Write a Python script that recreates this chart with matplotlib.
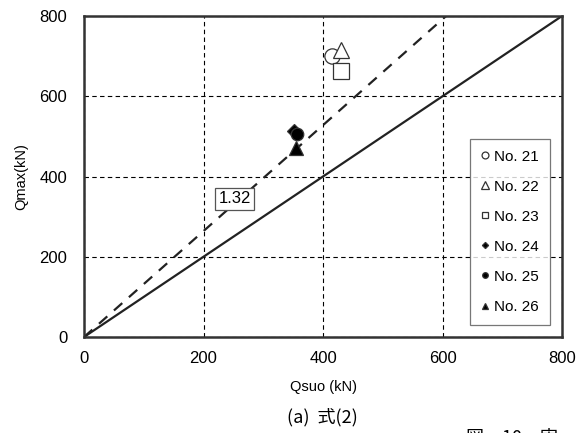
import matplotlib

matplotlib.use("Agg")
import matplotlib.pyplot as plt

plt.rcParams["font.family"] = ["Liberation Sans", "Noto Sans CJK JP"]

# specimens: Qsuo (kN) vs Qmax (kN)
labels = ["No. 21", "No. 22", "No. 23", "No. 24", "No. 25", "No. 26"]
qsuo = [415, 430, 430, 352, 356, 354]
qmax = [700, 716, 663, 514, 506, 471]
markers = ["o", "^", "s", "D", "o", "^"]
filled = [False, False, False, True, True, True]
sizes = [11, 12, 11, 7, 9, 10]

ratio = 1.32
ticks = [0, 200, 400, 600, 800]

fig = plt.figure(figsize=(5.77, 4.33), dpi=100)
ax = fig.add_axes([0.1456, 0.2217, 0.8284, 0.7413])

# reference lines
ax.plot([0, 800], [0, 800], color="#222222", lw=1.6, zorder=2)
ax.plot([0, 800 / ratio], [0, 800], color="#222222", lw=1.6,
        ls=(0, (5, 4)), zorder=2)

handles = []
for x, y, m, f, s, lab in zip(qsuo, qmax, markers, filled, sizes, labels):
    h, = ax.plot([x], [y], ls="none", marker=m, ms=s,
                 mfc="black" if f else "white", mec="#333333",
                 mew=0.9, label=lab, zorder=3)
    handles.append(h)

ax.text(252, 344, f"{ratio:.2f}", fontsize=12, ha="center", va="center",
        bbox=dict(boxstyle="square,pad=0.2", fc="white", ec="#555555", lw=0.9),
        zorder=4)

ax.set_xlim(0, 800)
ax.set_ylim(0, 800)
ax.set_xticks(ticks)
ax.set_yticks(ticks)
ax.tick_params(length=0, labelsize=12)
ax.tick_params(axis="x", pad=10)
ax.tick_params(axis="y", pad=12)
ax.grid(True, color="black", ls=(0, (4, 3)), lw=0.8)
for sp in ax.spines.values():
    sp.set_linewidth(1.8)
    sp.set_color("#333333")

ax.set_xlabel("Qsuo (kN)", fontsize=10.5, labelpad=10)
ax.set_ylabel("Qmax(kN)", fontsize=10.5, labelpad=8)

leg = ax.legend(handles=handles, loc="lower right",
                bbox_to_anchor=(0.99, 0.015), markerscale=0.45,
                fontsize=11, handlelength=0.6, handletextpad=0.3,
                labelspacing=1.05, borderpad=0.7, frameon=True,
                fancybox=False, edgecolor="#555555")
leg.get_frame().set_linewidth(0.9)

fig.text(0.558, 0.037, "(a)  式(2)", fontsize=13, ha="center", va="center",
         family=["Noto Sans CJK JP", "DejaVu Sans"])
fig.text(0.808, -0.01, "図－10　実", fontsize=13, ha="left", va="center",
         family=["Noto Sans CJK JP", "DejaVu Sans"])

fig.savefig("out.png", dpi=100)
